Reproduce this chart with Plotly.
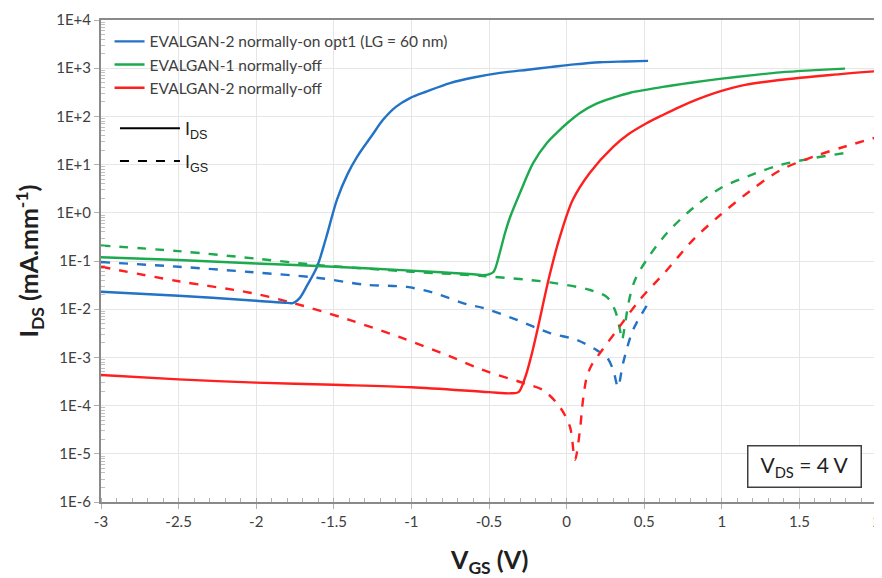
import numpy as np
import plotly.graph_objects as go

# ---------------- data ----------------
# EVALGAN-2 normally-on opt1 (LG = 60 nm)
blue_ids_x = [-3.0, -2.5, -2.0, -1.80, -1.76, -1.72, -1.67, -1.608, -1.55, -1.479, -1.41, -1.35,
              -1.25, -1.183, -1.10, -1.009, -0.90, -0.751, -0.60, -0.429, -0.25, -0.107, 0.05,
              0.215, 0.38, 0.525]
blue_ids_y = [2.3e-2, 1.9e-2, 1.5e-2, 1.35e-2, 1.35e-2, 1.7e-2, 3.2e-2, 7.6e-2, 0.30, 1.9, 6.5, 14.5,
              42, 85, 158, 240, 330, 490, 640, 800, 930, 1050, 1200, 1330, 1380, 1420]
blue_igs_x = [-3.0, -2.5, -2.04, -1.61, -1.29, -1.03, -0.86, -0.64, -0.54, -0.32, -0.107,
              0.067, 0.196, 0.26, 0.30, 0.331, 0.364, 0.428, 0.531]
blue_igs_y = [9.5e-2, 7.6e-2, 5.9e-2, 4.5e-2, 3.2e-2, 2.9e-2, 2.2e-2, 1.26e-2, 1.07e-2, 6.0e-3,
              3.2e-3, 2.3e-3, 1.4e-3, 1.0e-3, 5.5e-4, 2.45e-4, 7.6e-4, 3.7e-3, 1.4e-2]

# EVALGAN-1 normally-off
green_ids_x = [-3.0, -2.5, -2.0, -1.5, -1.0, -0.60, -0.54, -0.50, -0.47, -0.43, -0.40, -0.365,
               -0.30, -0.216, -0.127, -0.05, 0.003, 0.086, 0.196, 0.30, 0.41, 0.52, 0.62, 0.80,
               0.988, 1.2, 1.375, 1.6, 1.794]
green_ids_y = [0.12, 0.105, 0.089, 0.076, 0.063, 0.053, 0.051, 0.053, 0.060, 0.15, 0.35, 0.80,
               2.6, 10.7, 28, 50, 72, 118, 186, 245, 310, 360, 410, 500,
               600, 720, 820, 910, 980]
green_igs_x = [-3.0, -2.5, -2.0, -1.61, -1.0, -0.54, -0.107, 0.151, 0.26, 0.312, 0.344, 0.357,
               0.375, 0.40, 0.44, 0.515, 0.647, 0.815, 0.988, 1.2, 1.375, 1.6, 1.794]
green_igs_y = [0.21, 0.16, 0.112, 0.083, 0.060, 0.049, 0.036, 0.025, 0.0178, 0.0095, 0.0037,
               0.0023, 0.0045, 0.014, 0.040, 0.105, 0.38, 1.26, 3.2, 6.3, 9.8, 13.8, 17.4]

# EVALGAN-2 normally-off
red_ids_x = [-3.0, -2.5, -2.0, -1.5, -1.0, -0.5, -0.36, -0.31, -0.27, -0.23, -0.19, -0.11,
             -0.043, 0.04, 0.15, 0.30, 0.40, 0.515, 0.62, 0.73, 0.85, 0.988, 1.15, 1.375,
             1.7, 2.0]
red_ids_y = [4.3e-4, 3.5e-4, 3.0e-4, 2.7e-4, 2.4e-4, 1.9e-4, 1.8e-4, 1.9e-4, 3.6e-4, 1.0e-3,
             3.5e-3, 5.0e-2, 0.32, 1.86, 6.8, 23.4, 43, 72, 107, 158, 230, 330, 450, 570,
             725, 870]
red_igs_x = [-3.0, -2.5, -2.04, -1.763, -1.40, -1.07, -0.751, -0.54, -0.28, -0.152, -0.043,
             0.022, 0.054, 0.086, 0.10, 0.115, 0.131, 0.16, 0.215, 0.325, 0.47, 0.647, 0.815,
             0.988, 1.18, 1.375, 1.6, 1.8, 2.0]
red_igs_y = [7.6e-2, 3.8e-2, 2.2e-2, 1.35e-2, 6.0e-3, 2.6e-3, 1.05e-3, 5.5e-4, 2.95e-4, 2.1e-4,
             9.3e-5, 3.6e-5, 7.5e-6, 3.1e-5, 9.0e-5, 2.2e-4, 4.0e-4, 6.8e-4, 1.23e-3, 3.7e-3,
             1.55e-2, 6.5e-2, 0.275, 0.89, 2.8, 7.6, 15.0, 24, 37]

series_names = ["EVALGAN-2 normally-on opt1 (LG = 60 nm)",
                "EVALGAN-1 normally-off",
                "EVALGAN-2 normally-off"]
series_colors = ["#2272C6", "#1DAA4E", "#FF1F1F"]

x_tick_vals = [-3, -2.5, -2, -1.5, -1, -0.5, 0, 0.5, 1, 1.5, 2]
x_tick_text = ["-3", "-2.5", "-2", "-1.5", "-1", "-0.5", "0", "0.5", "1", "1.5", "2"]
y_tick_exps = [4, 3, 2, 1, 0, -1, -2, -3, -4, -5, -6]
y_tick_text = ["1E+4", "1E+3", "1E+2", "1E+1", "1E+0", "1E-1", "1E-2", "1E-3", "1E-4", "1E-5", "1E-6"]

# ---------------- figure ----------------
FONT = "Lato"
fig = go.Figure()

ids_data = [(blue_ids_x, blue_ids_y), (green_ids_x, green_ids_y), (red_ids_x, red_ids_y)]
igs_data = [(blue_igs_x, blue_igs_y), (green_igs_x, green_igs_y), (red_igs_x, red_igs_y)]

for i, (name, col) in enumerate(zip(series_names, series_colors)):
    gx, gy = igs_data[i]
    fig.add_trace(go.Scatter(x=gx, y=gy, mode="lines", showlegend=False,
                             line=dict(color=col, width=2.4, dash="dash", shape="spline", smoothing=0.9),
                             hoverinfo="skip"))
for i, (name, col) in enumerate(zip(series_names, series_colors)):
    dx, dy = ids_data[i]
    fig.add_trace(go.Scatter(x=dx, y=dy, mode="lines", name=name, legend="legend",
                             legendgroup=name, legendrank=i + 1,
                             line=dict(color=col, width=2.4, shape="spline", smoothing=0.9)))

# line-style key
fig.add_trace(go.Scatter(x=[None], y=[None], mode="lines", name="I<sub>DS</sub>", legend="legend2",
                         line=dict(color="black", width=2)))
fig.add_trace(go.Scatter(x=[None], y=[None], mode="lines", name="I<sub>GS</sub>", legend="legend3",
                         line=dict(color="black", width=2, dash="dash")))

minor_vals = [m * 10.0 ** e for e in range(-6, 4) for m in range(2, 10)]

# the page body adds an 8px offset, so the figure is sized 8px smaller
fig.update_layout(
    width=874, height=570,
    margin=dict(l=93, r=5, t=12, b=76),
    paper_bgcolor="white", plot_bgcolor="white",
    font=dict(family=FONT, color="#404040"),
    legend=dict(x=0.011, y=0.99, xanchor="left", yanchor="top", bgcolor="rgba(0,0,0,0)",
                font=dict(family=FONT, size=15.5, color="#404040"), traceorder="grouped",
                tracegroupgap=0, itemwidth=30),
    legend2=dict(x=0.018, y=0.813, xanchor="left", yanchor="top", bgcolor="rgba(0,0,0,0)",
                 font=dict(family="Liberation Sans", size=18, color="#202020"), itemwidth=60),
    legend3=dict(x=0.018, y=0.745, xanchor="left", yanchor="top", bgcolor="rgba(0,0,0,0)",
                 font=dict(family="Liberation Sans", size=18, color="#202020"), itemwidth=60),
    xaxis=dict(range=[-3, 2], tickvals=x_tick_vals, ticktext=x_tick_text, automargin=False,
               ticklabeloverflow="allow",
               showgrid=True, gridcolor="#e6e6e6", gridwidth=1,
               showline=True, linecolor="#8a8a8a", linewidth=2, mirror=True,
               ticks="outside", ticklen=5, tickcolor="#b0b0b0",
               minor=dict(dtick=0.1, ticks="inside", ticklen=4, tickcolor="#b0b0b0", showgrid=False),
               tickfont=dict(family=FONT, size=15, color="#404040"), zeroline=False),
    yaxis=dict(type="log", range=[-6, 4], tickvals=[10.0 ** e for e in y_tick_exps], ticktext=y_tick_text,
               automargin=False, ticklabeloverflow="allow",
               showgrid=True, gridcolor="#e6e6e6", gridwidth=1,
               showline=True, linecolor="#8a8a8a", linewidth=2, mirror=True,
               ticks="outside", ticklen=5, tickcolor="#b0b0b0",
               minor=dict(tickvals=minor_vals, ticks="inside", ticklen=4, tickcolor="#c0c0c0", showgrid=False),
               tickfont=dict(family=FONT, size=15, color="#404040"), zeroline=False,
               title=dict(text="<b>I<sub>DS</sub> (mA.mm<sup>-1</sup>)</b>",
                          font=dict(family=FONT, size=25, color="#202020"), standoff=10)),
    annotations=[
        dict(xref="paper", yref="paper", x=0.907, y=0.074, xanchor="center", yanchor="middle",
             text="V<sub>DS</sub> = 4 V", showarrow=False,
             font=dict(family=FONT, size=21, color="#202020"),
             bordercolor="#404040", borderwidth=1.5, borderpad=6, bgcolor="white",
             width=100, height=28),
        dict(xref="paper", yref="paper", x=0.5, y=-0.122, xanchor="center", yanchor="middle",
             text="<b>V<sub>GS</sub> (V)</b>", showarrow=False,
             font=dict(family=FONT, size=25, color="#202020")),
    ],
)

fig.write_html("out.html")
